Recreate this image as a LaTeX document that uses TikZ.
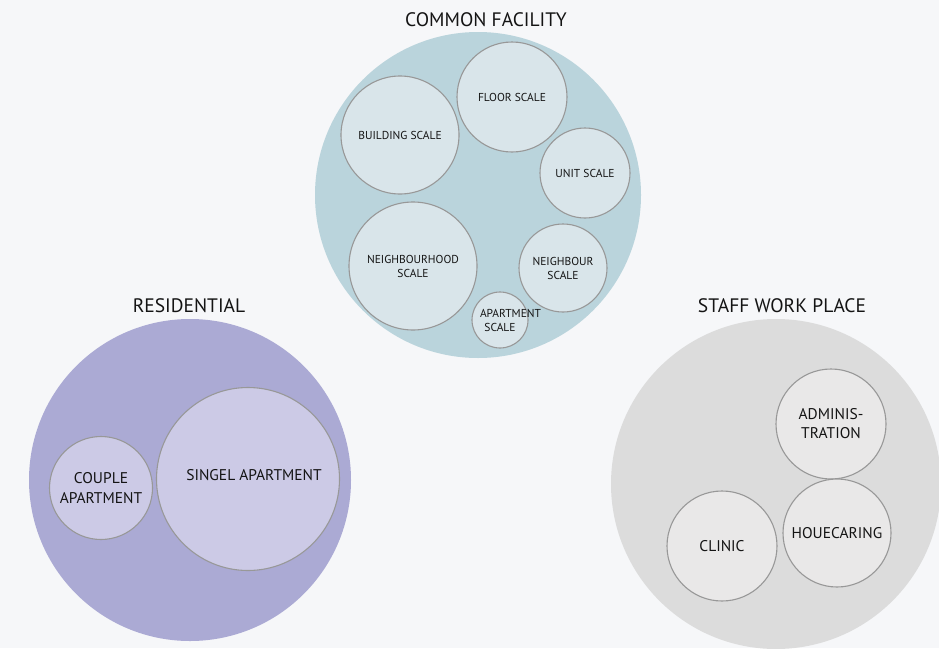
\documentclass[tikz,border=0pt]{standalone}
\usepackage{fontspec}
\setmainfont{PT Sans}
\usepackage{xcolor}
\usetikzlibrary{positioning}
\definecolor{pagebg}{HTML}{F6F7F9}
\definecolor{facilityblue}{HTML}{BAD4DC}
\definecolor{facilitysub}{HTML}{D9E5EA}
\definecolor{residentpurple}{HTML}{ABAAD4}
\definecolor{residentsub}{HTML}{CCCAE6}
\definecolor{staffgrey}{HTML}{DCDCDC}
\definecolor{staffsub}{HTML}{E9E8E8}
\definecolor{ringgrey}{HTML}{989898}
\tikzset{
  groupdisc/.style={circle,inner sep=0pt,draw=none},
  subdisc/.style={circle,inner sep=0pt,draw=ringgrey,line width=1.1pt,align=center,
    text=black!92},
  facilityitem/.style={subdisc,fill=facilitysub,font=\fontsize{11.5}{14}\selectfont},
  residentitem/.style={subdisc,fill=residentsub,font=\fontsize{15.5}{20}\selectfont},
  staffitem/.style={subdisc,fill=staffsub,font=\fontsize{15.5}{19}\selectfont},
  grouptitle/.style={font=\fontsize{19.5}{22}\selectfont,text=black!92}
}
\begin{document}
\begin{tikzpicture}[x=1pt,y=-1pt]
  \useasboundingbox (0,0) rectangle (939,648);
  \fill[pagebg] (0,0) rectangle (939,648);
  \clip (0,0) rectangle (939,648);
  % common facility
  \node[groupdisc,fill=facilityblue,minimum size=326pt] (facility) at (478,195) {};
  \node[grouptitle] (facilitytitle) at (486,20) {COMMON FACILITY};
  \node[facilityitem,minimum size=110pt] (floor) at (512,97) {FLOOR SCALE};
  \node[facilityitem,minimum size=118pt] (building) at (400,135) {BUILDING SCALE};
  \node[facilityitem,minimum size=90pt] (unit) at (585,173) {UNIT SCALE};
  \node[facilityitem,minimum size=128pt] (hood) at (413,266) {NEIGHBOURHOOD\\SCALE};
  \node[facilityitem,minimum size=88pt] (neighbour) at (563,268) {NEIGHBOUR\\SCALE};
  \node[facilityitem,minimum size=56pt,text width=40pt] (apartment) at (500,320) {APARTMENT\\SCALE};
  % residential
  \node[groupdisc,fill=residentpurple,minimum size=322pt] (resident) at (190,480) {};
  \node[grouptitle] (residenttitle) at (189,306) {RESIDENTIAL};
  \node[residentitem,minimum size=103pt] (couple) at (101,488) {COUPLE\\APARTMENT};
  \node[residentitem,minimum size=183pt] (single) at (248,479) {};
  \node[font=\fontsize{15.5}{20}\selectfont,text=black!92] (singlelabel) at (254,475) {SINGEL APARTMENT};
  % staff work place
  \node[groupdisc,fill=staffgrey,minimum size=330pt] (staff) at (776,484) {};
  \node[grouptitle] (stafftitle) at (782,306) {STAFF WORK PLACE};
  \node[staffitem,minimum size=110pt] (admin) at (831,424) {ADMINIS-\\TRATION};
  \node[staffitem,minimum size=108pt] (care) at (837,533) {HOUECARING};
  \node[staffitem,minimum size=110pt] (clinic) at (722,546) {CLINIC};
\end{tikzpicture}
\end{document}
